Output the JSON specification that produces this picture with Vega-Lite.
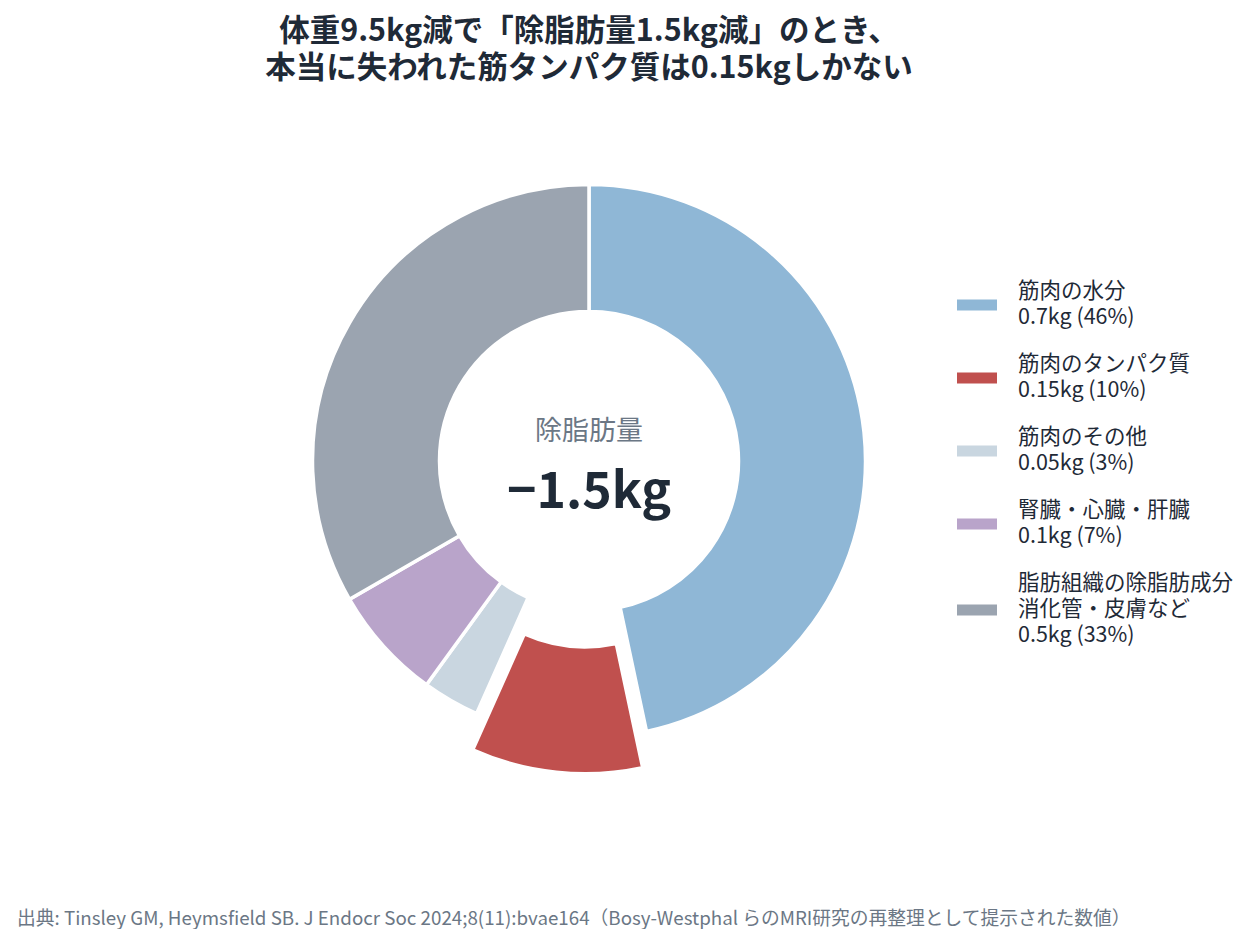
{
  "$schema": "https://vega.github.io/schema/vega-lite/v6.json",
  "background": "white",
  "padding": {"left": 17, "top": 17, "right": 0, "bottom": 0},
  "title": {
    "text": "出典: Tinsley GM, Heymsfield SB. J Endocr Soc 2024;8(11):bvae164（Bosy-Westphal らのMRI研究の再整理として提示された数値）",
    "orient": "bottom",
    "anchor": "start",
    "frame": "bounds",
    "font": "Noto Sans CJK JP",
    "fontSize": 18.75,
    "fontWeight": "normal",
    "color": "#6b7785",
    "offset": 89
  },
  "config": {
    "view": {"stroke": null},
    "font": "Noto Sans CJK JP"
  },
  "vconcat": [
    {
      "width": 1144,
      "height": 720,
      "title": {
        "text": ["体重9.5kg減で「除脂肪量1.5kg減」のとき、", "本当に失われた筋タンパク質は0.15kgしかない"],
        "frame": "group",
        "anchor": "middle",
        "font": "Noto Sans CJK JP",
        "fontSize": 30.5,
        "fontWeight": "bold",
        "lineHeight": 37,
        "color": "#1f2a37",
        "offset": 16.5
      },
      "data": {
        "values": [
          {"idx": 1, "key": "筋肉の水分|0.7kg (46%)", "value": 0.7},
          {"idx": 2, "key": "筋肉のタンパク質|0.15kg (10%)", "value": 0.15},
          {"idx": 3, "key": "筋肉のその他|0.05kg (3%)", "value": 0.05},
          {"idx": 4, "key": "腎臓・心臓・肝臓|0.1kg (7%)", "value": 0.1},
          {"idx": 5, "key": "脂肪組織の除脂肪成分|消化管・皮膚など|0.5kg (33%)", "value": 0.5}
        ]
      },
      "layer": [
        {
          "mark": {"type": "arc", "innerRadius": 149.5, "outerRadius": 276.5, "stroke": "white", "strokeWidth": 3.5},
          "encoding": {
            "theta": {"field": "value", "type": "quantitative", "stack": true},
            "order": {"field": "idx", "type": "quantitative"},
            "color": {
              "field": "key",
              "type": "nominal",
              "scale": {
                "domain": [
                  "筋肉の水分|0.7kg (46%)",
                  "筋肉のタンパク質|0.15kg (10%)",
                  "筋肉のその他|0.05kg (3%)",
                  "腎臓・心臓・肝臓|0.1kg (7%)",
                  "脂肪組織の除脂肪成分|消化管・皮膚など|0.5kg (33%)"
                ],
                "range": ["#8fb7d6", "#c0504e", "#c9d6e0", "#b9a4ca", "#9ba4b0"]
              },
              "legend": {
                "title": null,
                "orient": "none",
                "legendX": 940,
                "legendY": 184,
                "padding": 0,
                "gridAlign": "each",
                "symbolType": "M-1,-0.275H1V0.275H-1Z",
                "symbolSize": 1600,
                "symbolStrokeWidth": 0,
                "symbolOpacity": 1,
                "labelExpr": "split(datum.label, '|')",
                "labelFont": "Noto Sans CJK JP",
                "labelFontSize": 21.5,
                "labelColor": "#1f2a37",
                "labelLimit": 0,
                "labelOffset": 21,
                "rowPadding": 25,
                "encoding": {
                  "labels": {
                    "lineHeight": {"value": 26},
                    "dy": {"value": {"expr": "-(length(split(datum.label, '|')) - 1) * 13"}}
                  }
                }
              }
            },
            "opacity": {"condition": {"test": "datum.idx === 2", "value": 0}, "value": 1}
          }
        },
        {
          "mark": {"type": "arc", "innerRadius": 149.5, "outerRadius": 276.5, "stroke": "white", "strokeWidth": 3.5, "xOffset": -3.8, "yOffset": 36.3},
          "encoding": {
            "theta": {"field": "value", "type": "quantitative", "stack": true},
            "order": {"field": "idx", "type": "quantitative"},
            "color": {"field": "key", "type": "nominal", "legend": null},
            "opacity": {"condition": {"test": "datum.idx === 2", "value": 1}, "value": 0}
          }
        },
        {
          "data": {"values": [{"t": "除脂肪量"}]},
          "mark": {"type": "text", "fontSize": 27, "color": "#6b7785", "baseline": "middle", "align": "center", "dy": -29},
          "encoding": {"text": {"field": "t", "type": "nominal"}}
        },
        {
          "data": {"values": [{"t": "−1.5kg"}]},
          "mark": {"type": "text", "fontSize": 50, "fontWeight": "bold", "color": "#1f2a37", "baseline": "middle", "align": "center", "dy": 32},
          "encoding": {"text": {"field": "t", "type": "nominal"}}
        }
      ]
    }
  ]
}
